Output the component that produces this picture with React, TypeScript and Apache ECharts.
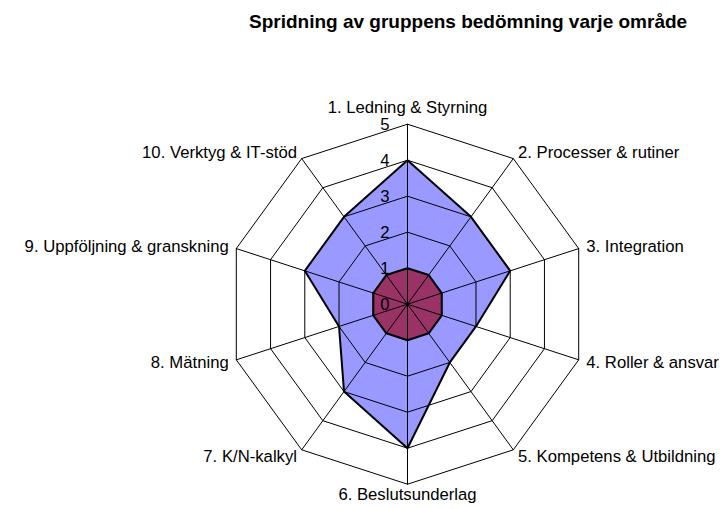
import React, { useEffect, useRef } from "react";
import * as echarts from "echarts";

const categories = [
  "1. Ledning & Styrning",
  "2. Processer & rutiner",
  "3. Integration",
  "4. Roller & ansvar",
  "5. Kompetens & Utbildning",
  "6. Beslutsunderlag",
  "7. K/N-kalkyl",
  "8. Mätning",
  "9. Uppföljning & granskning",
  "10. Verktyg & IT-stöd",
];
const spreadMax = [4, 3, 3, 2, 2, 4, 3, 2, 3, 3];
const spreadMin = [1, 1, 1, 1, 1, 1, 1, 1, 1, 1];
const axisMin = 0;
const axisMax = 5;

const FONT = "'Liberation Sans', Arial, sans-serif";

// ECharts lays radar indicators counter-clockwise; reorder so the categories run clockwise.
const order = categories.map((_, i) => (i === 0 ? 0 : categories.length - i));
const pick = (arr: any[]) => order.map((i) => arr[i]);

export default function App() {
  const ref = useRef<HTMLDivElement>(null);
  useEffect(() => {
    if (!ref.current) return;
    const chart = echarts.init(ref.current, null, { renderer: "svg" });
    chart.setOption({
      animation: false,
      backgroundColor: "#ffffff",
      title: {
        text: "Spridning av gruppens bedömning varje område",
        left: 244,
        top: 7,
        textStyle: { fontFamily: FONT, fontSize: 19, fontWeight: "bold", color: "#000" },
      },
      radar: {
        z: 5,
        center: [407.5, 304.2],
        radius: 180,
        startAngle: 90,
        shape: "polygon",
        splitNumber: 5,
        nameGap: 8,
        axisName: { color: "#000", fontFamily: FONT, fontSize: 16.7 },
        indicator: pick(categories).map((name, i) => {
          const ind: any = { name, min: axisMin, max: axisMax };
          if (i === 0) {
            ind.axisLabel = {
              show: true,
              color: "#000",
              fontFamily: FONT,
              fontSize: 16.7,
              margin: 18,
              showMinLabel: true,
              showMaxLabel: true,
            };
          }
          if (name === categories[5]) ind.nameGap = 2;
          return ind;
        }),
        axisLabel: { show: false },
        axisTick: { show: false },
        axisLine: { show: true, lineStyle: { color: "#000", width: 1 } },
        splitLine: { show: true, lineStyle: { color: "#000", width: 1 } },
        splitArea: { show: false },
      },
      series: [
        {
          type: "radar",
          z: 2,
          symbol: "none",
          lineStyle: { width: 0, opacity: 0 },
          data: [
            {
              value: pick(spreadMax),
              name: "Max",
              lineStyle: { width: 0, opacity: 0 },
              areaStyle: { color: "#9999ff", opacity: 1 },
            },
            {
              value: pick(spreadMin),
              name: "Min",
              lineStyle: { width: 0, opacity: 0 },
              areaStyle: { color: "#993366", opacity: 1 },
            },
          ],
        },
        {
          type: "radar",
          z: 8,
          symbol: "none",
          lineStyle: { color: "#000", width: 2 },
          data: [
            { value: pick(spreadMax), name: "Max", lineStyle: { color: "#000", width: 2 } },
            { value: pick(spreadMin), name: "Min", lineStyle: { color: "#000", width: 2 } },
          ],
        },
      ],
    });
    return () => chart.dispose();
  }, []);
  return (
    <div
      ref={ref}
      style={{ position: "absolute", left: 0, top: 0, width: 726, height: 509 }}
    />
  );
}
